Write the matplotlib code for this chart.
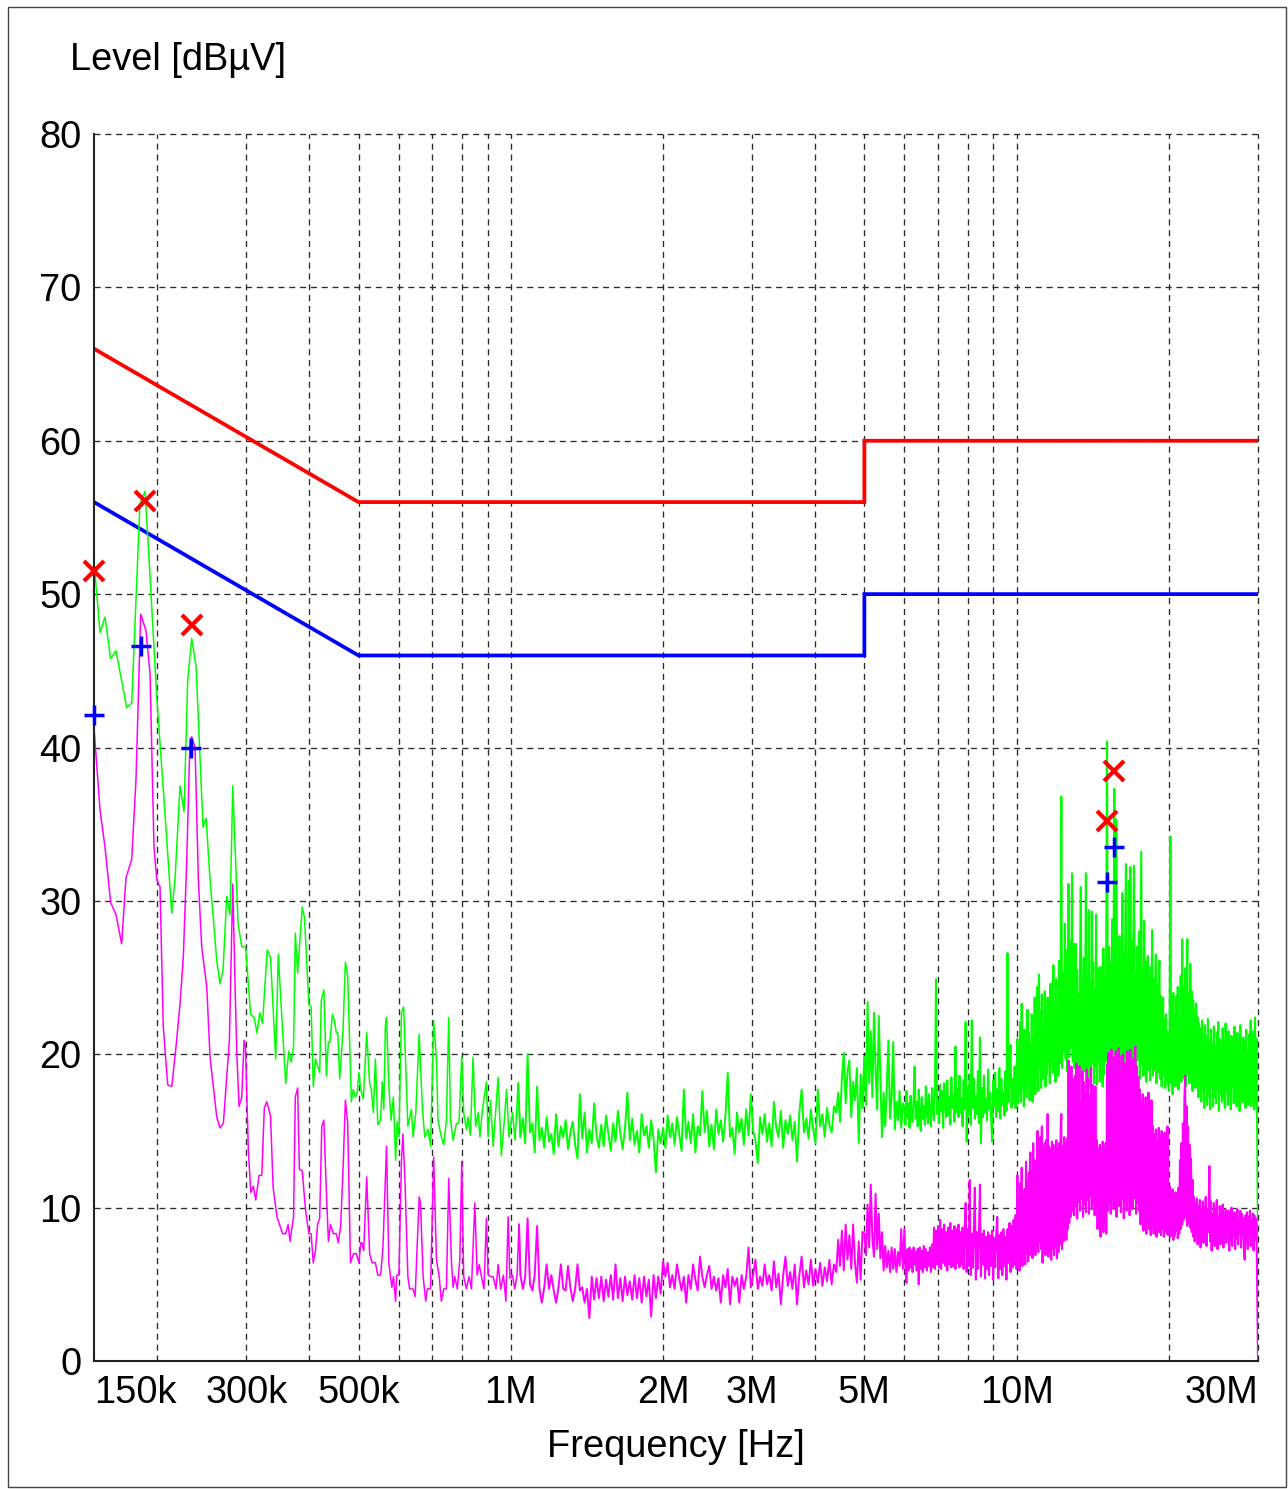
import numpy as np
import matplotlib
matplotlib.use('Agg')
import matplotlib.pyplot as plt
from matplotlib.patches import Rectangle
from matplotlib.ticker import NullLocator

plt.rcParams['font.family'] = ['Liberation Sans', 'DejaVu Sans']

# ---------------- data ----------------
# limit lines (MHz, dBuV)
qp_limit_f = [0.15, 0.5, 5.0, 5.0, 30.0]
qp_limit_db = [66, 56, 56, 60, 60]
av_limit_f = [0.15, 0.5, 5.0, 5.0, 30.0]
av_limit_db = [56, 46, 46, 50, 50]

# peak trace (green), low-frequency part (kHz, dBuV)
peak_low = [(150, 52.1), (154.2, 47.5), (157.7, 48.5), (161.8, 45.8), (165.8, 46.3), (174.1, 42.6),
            (178.1, 42.9), (184.9, 55.9), (189.2, 56.7), (191.8, 53.5), (199.6, 43.3), (207.2, 35.7),
            (213.7, 29.2), (216.9, 31.4), (221.9, 37.5), (226.0, 35.8), (229.8, 44.4), (234.0, 47.1),
            (238.7, 45.3), (246.4, 34.8), (249.8, 35.4), (254.4, 31.4), (262.3, 26.1), (266.2, 24.6),
            (269.9, 25.5), (274.5, 30.3), (278.6, 29.1), (282.1, 37.5), (289.0, 28.5), (294, 27.0),
            (299, 27.0), (306, 22.6), (311, 22.4), (315, 21.4), (319, 22.7), (323, 22.0), (330, 26.8),
            (335, 26.3), (343, 19.7), (347, 26.5), (353, 22.2), (359, 18.1), (364, 20.2), (368, 19.5),
            (372, 20.5), (375, 27.9), (379, 25.3), (387, 29.6), (391, 28.9), (399, 23.2), (403, 23.1),
            (407, 17.9), (411, 19.7), (419, 18.8), (422, 23.5), (427, 24.2), (432, 18.6), (436, 20.8),
            (439, 20.8), (444, 22.6), (448, 22.2), (452, 21.4), (455, 21.4), (459, 18.4), (466, 21.6),
            (471, 26.0), (476, 25.1), (484, 16.9), (488, 17.7), (493, 17.2), (497, 17.5), (501, 18.8),
            (505, 17.7), (511, 17.1), (519, 21.4), (526, 18.1), (530, 17.7), (535, 16.2), (540, 19.7),
            (546, 15.4), (553, 15.7), (557, 18.2), (561, 16.4), (565, 21.8), (568, 22.4), (574, 17.9),
            (580, 15.7), (586, 17.2), (592, 13.1), (596, 15.6), (601, 14.6), (608, 22.7), (614, 23.1),
            (626, 15.3), (636, 16.4), (641, 14.6), (649, 16.2), (659, 21.3), (669, 16.4), (676, 14.6),
            (686, 15.1), (694, 14.0), (704, 22.2), (713, 19.6), (718, 15.7), (729, 14.6), (737, 14.1),
            (746, 15.7), (754, 22.4), (760, 15.7), (769, 14.4), (781, 15.5), (790, 15.5), (800, 19.9),
            (807, 16.2), (817, 15.1), (823, 15.9), (832, 14.7), (842, 19.8), (852, 15.3), (862, 16.2),
            (869, 14.6), (879, 16.4), (895, 18.2), (902, 14.6), (912, 17.0), (923, 14.0), (944, 18.5),
            (958, 13.4), (969, 15.3), (981, 17.7), (992, 14.6), (1008, 16.2), (1020, 14.4), (1034, 18.1)]

# average trace (magenta), low-frequency part (kHz, dBuV)
avg_low = [(150, 41.3), (154.2, 35.9), (157.7, 33.5), (160.1, 31.4), (161.8, 29.9), (165.8, 29.1),
           (170.1, 27.2), (173.5, 31.5), (178.1, 32.7), (181.6, 37.9), (185.5, 48.7), (190.1, 47.6),
           (193.6, 44.8), (197.1, 33.5), (199.6, 31.4), (202.6, 30.9), (205.6, 21.8), (209.8, 18.0),
           (213.7, 17.9), (217.9, 20.5), (221.9, 23.3), (225.3, 26.4), (228.8, 32.7), (232.2, 40.5),
           (234.0, 40.7), (237.6, 40.0), (241.2, 31.4), (244.9, 27.0), (250.6, 24.4), (254.4, 19.8),
           (258.2, 17.9), (262.3, 15.9), (266.2, 15.2), (270.3, 15.5), (274.5, 18.5), (277.8, 20.9),
           (282.1, 31.1), (285.1, 24.4), (287.3, 20.1), (290.3, 16.6), (293.9, 17.2), (297.0, 20.9),
           (298.9, 20.5), (302.8, 13.8), (306.2, 11.0), (309.8, 11.4), (313.2, 10.5), (318.0, 12.1),
           (321.9, 12.1), (325.7, 16.5), (329.3, 16.9), (335, 16.0), (339, 11.3), (345, 9.4), (354, 8.3),
           (359, 8.3), (363, 8.9), (366, 7.8), (372, 9.4), (375, 17.2), (379, 17.8), (382, 12.5),
           (387, 12.4), (393, 9.8), (399, 8.3), (403, 8.3), (407, 6.4), (411, 7.2), (415, 8.9), (419, 9.3),
           (423, 15.3), (427, 15.7), (432, 11.0), (436, 7.8), (440, 8.9), (446, 8.3), (452, 8.3),
           (456, 7.7), (461, 8.8), (466, 12.5), (471, 17.0), (476, 15.5), (482, 6.4), (489, 7.0),
           (495, 7.0), (501, 6.4), (505, 7.7), (508, 7.7), (512, 7.2), (519, 12.0), (526, 7.0), (532, 6.4),
           (540, 6.4), (546, 5.6), (553, 5.6), (559, 7.5), (568, 14.0), (574, 6.4), (582, 4.8), (586, 5.5),
           (592, 3.9), (595, 5.6), (601, 5.6), (608, 13.1), (612, 14.8), (618, 11.6), (626, 5.5),
           (631, 4.7), (641, 4.7), (647, 4.2), (659, 10.7), (663, 10.3), (671, 5.5), (679, 3.9),
           (684, 4.7), (694, 4.7), (704, 13.3), (713, 6.6), (722, 5.5), (729, 3.9), (737, 4.7), (746, 4.7),
           (754, 11.9), (763, 6.6), (769, 4.8), (775, 5.5), (784, 4.7), (793, 6.6), (800, 13.0),
           (807, 5.5), (817, 4.7), (827, 5.5), (836, 4.7), (849, 10.3), (858, 5.6), (866, 6.3), (875, 5.5),
           (885, 4.7), (895, 9.3), (902, 5.6), (912, 5.5), (923, 5.5), (935, 4.7), (944, 6.3), (955, 4.7),
           (967, 5.6), (978, 3.9), (988, 9.4), (996, 5.4), (1008, 5.6), (1018, 4.7), (1029, 5.6),
           (1038, 8.9)]

# dense sweep part: band edges (MHz); levels per band on the sweep grid
band_edges = [1.045, 2.0, 4.4, 5.0, 6.0, 10.0, 13.0, 20.0, 29.9]

peak_1M_2M = [14.6, 15.8, 14.2, 20.0, 14.9, 15.5, 13.6, 17.9, 14.4, 15.2, 13.9, 15.9, 14.3, 14.8, 13.5, 16.1, 14.0,
              15.3, 14.6, 15.7, 13.8, 14.9, 15.6, 14.1, 13.2, 17.4, 14.5, 16.2, 13.6, 15.1, 14.2, 16.8, 14.7, 13.9,
              15.4, 14.0, 16.0, 14.8, 13.7, 15.5, 14.3, 16.3, 14.9, 13.8, 15.2, 17.5, 14.4, 15.8, 14.1, 15.0, 13.6,
              16.1, 14.7, 15.3, 13.9, 15.7, 14.5, 12.3, 15.1, 14.2]
peak_2M_4M = [15.2, 13.9, 16.0, 14.6, 15.5, 14.1, 15.9, 14.8, 13.7, 17.7, 14.5, 15.6, 14.2, 16.1, 13.6, 15.3, 14.7,
              17.6, 14.9, 16.3, 14.0, 15.4, 13.8, 16.4, 14.8, 15.7, 14.3, 16.0, 18.8, 14.6, 15.2, 13.5, 16.2, 14.9,
              15.8, 14.1, 16.4, 14.7, 17.4, 15.0, 14.4, 12.9, 15.9, 14.8, 16.1, 14.3, 15.5, 14.0, 16.9, 15.2, 14.6,
              16.3, 13.9, 15.7, 14.8, 16.0, 14.4, 15.6, 13.0, 16.2, 17.7, 14.9, 15.8, 14.5, 16.4, 15.1, 14.2, 17.7,
              15.3, 16.1, 14.6, 16.5, 15.4, 14.9, 16.6]
peak_4M_5M = [16.2, 17.5, 15.6, 18.4, 20.1, 16.8, 18.9, 19.6, 15.9, 18.2, 17.0, 19.1, 14.2, 18.7, 16.5]
peak_5M_6M = [19.8, 16.7, 23.4, 18.1, 21.5, 17.2, 22.7, 19.0, 16.4, 22.5, 18.6, 14.6, 17.5, 15.3, 17.9, 20.9, 15.8,
              17.2, 20.8, 15.1, 16.9, 15.7, 17.6, 15.2, 16.8]
peak_6M_10M = [16.5, 15.4, 17.6, 15.9, 16.8, 15.2, 17.3, 16.0, 15.6, 17.1, 19.2, 15.8, 16.9, 15.3, 17.7, 16.1, 15.0,
               17.2, 15.8, 16.6, 15.4, 17.9, 16.2, 15.5, 17.4, 16.0, 15.3, 17.8, 16.4, 15.7, 18.2, 24.9, 16.1, 17.0,
               15.5, 18.0, 16.3, 17.6, 15.2, 18.1, 16.7, 15.9, 18.3, 16.0, 17.2, 15.4, 18.5, 16.5, 17.3, 15.6, 20.5,
               16.2, 17.8, 15.9, 18.6, 16.2, 17.1, 15.3, 18.3, 16.4, 22.1, 14.3, 17.9, 16.0, 18.7, 15.4, 22.2, 16.5,
               18.4, 15.8, 17.3, 16.1, 18.9, 15.5, 21.1, 14.2, 17.8, 15.9, 18.6, 16.2, 17.1, 15.7, 19.0, 16.4, 17.5,
               15.8, 14.3, 18.3, 16.6, 18.8, 15.9, 17.7, 16.3, 19.1, 15.8, 18.4, 16.7, 17.5, 16.0, 18.9, 16.3, 26.6,
               16.9, 18.6, 20.6, 16.5, 18.4, 16.8, 19.2, 16.5]
peak_10M_13M = [18.2, 21.0, 16.8, 20.4, 17.5, 22.1, 16.9, 23.3, 17.8, 20.2, 16.6, 21.6, 18.0, 19.8, 17.2, 22.9,
                18.5, 21.4, 17.0, 20.7, 18.3, 22.6, 16.9, 21.1, 18.6, 23.7, 17.4, 22.0, 18.9, 24.4, 17.6, 25.2,
                19.2, 22.8, 17.8, 23.9, 18.4, 21.7, 19.0, 24.1, 17.9, 22.5, 18.7, 23.7, 19.5, 21.9, 18.1, 24.6,
                19.3, 22.4, 18.8, 25.8, 19.6, 23.2, 18.2, 24.9, 19.9, 22.7, 18.6, 26.1, 19.4, 24.0, 36.8, 19.1,
                25.3, 20.2, 23.8, 28.5, 19.7, 26.8, 18.9, 25.5, 31.1, 19.8, 27.4, 20.4, 24.7, 31.8, 19.5, 27.2]
peak_13M_20M = [19.1, 24.6, 27.2, 18.3, 25.5, 17.8, 23.9, 18.4, 26.2, 30.9, 19.0, 24.4, 17.6, 26.3, 18.9, 23.8,
                31.8, 18.8, 25.1, 19.3, 29.4, 17.9, 24.8, 18.6, 29.3, 19.4, 26.0, 18.1, 24.3, 19.2, 29.1, 18.0,
                25.6, 19.5, 23.1, 18.2, 25.7, 19.0, 24.2, 17.9, 26.9, 18.7, 25.0, 19.6, 27.5, 40.4, 19.2, 26.4,
                27.0, 18.5, 25.9, 19.8, 28.8, 18.4, 26.7, 37.3, 20.0, 27.3, 35.3, 19.1, 26.1, 18.6, 27.7, 19.7,
                25.4, 18.9, 30.5, 19.5, 26.6, 18.7, 27.9, 32.4, 19.3, 26.2, 18.8, 31.3, 19.9, 32.2, 19.0, 27.4,
                18.5, 26.8, 32.3, 19.4, 25.3, 18.9, 27.0, 19.6, 25.8, 28.0, 18.4, 26.3, 33.2, 19.3, 25.6, 18.6,
                28.7, 19.1, 26.0, 18.2, 25.2, 26.4, 19.0, 24.8, 18.3, 25.7, 19.2, 28.1, 18.6, 24.9, 19.0, 23.6,
                26.5, 18.1, 24.5, 18.8, 25.1, 26.1, 18.4, 23.8, 17.9, 22.7, 23.7, 18.6, 22.3, 17.8, 22.6, 18.2,
                21.5, 18.0]
peak_20M_30M = [17.6, 22.1, 34.2, 18.1, 23.4, 17.4, 24.0, 18.3, 22.6, 17.9, 23.8, 18.6, 24.4, 17.7, 22.4, 18.8,
                25.1, 18.2, 27.5, 19.0, 24.3, 18.4, 25.6, 17.9, 24.8, 27.5, 18.7, 23.9, 18.1, 25.9, 18.9, 24.1,
                17.6, 23.5, 18.3, 22.9, 17.8, 23.3, 18.5, 22.4, 17.2, 22.0, 18.1, 21.7, 16.9, 22.2, 17.6, 21.3,
                16.5, 21.9, 17.9, 21.1, 16.7, 22.3, 17.3, 20.9, 16.4, 21.6, 17.8, 20.7, 16.6, 21.8, 17.2, 20.5,
                16.8, 21.4, 17.7, 22.1, 16.3, 21.0, 17.4, 20.6, 16.9, 21.7, 17.1, 20.8, 16.5, 22.0, 17.6, 20.4,
                16.7, 21.5, 17.3, 20.9, 16.4, 21.2, 17.9, 20.6, 16.8, 21.8, 17.0, 20.3, 16.6, 21.4, 17.5, 20.7,
                16.3, 21.9, 17.2, 20.5, 16.9, 21.1, 17.4, 20.8, 16.5, 21.6, 17.8, 20.2, 16.7, 21.3, 17.1, 22.2,
                16.6, 20.9, 17.5, 21.5, 16.4, 22.4, 17.0, 21.0]
peak_bands = [peak_1M_2M, peak_2M_4M, peak_4M_5M, peak_5M_6M, peak_6M_10M, peak_10M_13M, peak_13M_20M,
              peak_20M_30M]
peak_end = (30.0, 7.7)

avg_1M_2M = [5.6, 4.7, 5.5, 9.3, 5.0, 4.6, 5.6, 8.8, 4.7, 3.8, 4.8, 6.3, 4.7, 5.6, 4.6, 3.8, 4.8, 6.3, 4.7, 4.6,
             6.2, 4.8, 3.9, 4.7, 6.3, 4.6, 4.8, 3.8, 4.7, 2.8, 5.5, 4.0, 5.4, 4.1, 5.5, 3.9, 5.3, 4.2, 5.6, 4.0,
             6.3, 4.1, 5.4, 3.9, 5.5, 4.3, 5.2, 4.0, 5.6, 4.1, 5.4, 3.8, 5.5, 4.2, 5.3, 2.9, 5.6, 4.1, 5.5, 4.4]
avg_2M_4M = [6.5, 5.5, 6.4, 4.8, 5.6, 4.7, 6.3, 5.4, 4.6, 5.5, 3.8, 5.6, 4.7, 6.3, 5.3, 4.6, 6.8, 5.5, 4.8, 5.6,
             6.2, 4.7, 5.5, 4.6, 5.4, 3.8, 5.6, 4.8, 6.0, 3.7, 5.5, 4.9, 5.4, 3.8, 5.6, 4.7, 5.5, 7.4, 4.8, 5.6,
             6.6, 4.7, 5.5, 4.9, 6.3, 5.0, 5.6, 4.6, 6.5, 4.8, 5.7, 3.7, 5.6, 6.8, 4.9, 5.8, 4.7, 6.3, 3.7, 5.6,
             6.8, 4.8, 5.9, 5.0, 6.6, 4.9, 6.0, 5.1, 6.4, 4.9, 6.1, 5.2, 6.6, 5.0, 6.3]
avg_4M_5M = [5.8, 7.9, 6.2, 8.5, 5.9, 8.9, 6.6, 8.2, 6.0, 8.9, 6.4, 5.1, 7.8, 5.3, 8.4]
avg_5M_6M = [8.3, 6.9, 10.2, 7.4, 11.5, 8.0, 6.8, 10.9, 7.3, 9.6, 6.7, 8.4, 5.9, 7.5, 6.1, 7.2, 5.8, 7.4, 6.0, 7.3,
             5.8, 7.1, 6.2, 8.6, 6.0]
avg_6M_10M = [8.6, 6.0, 5.1, 7.3, 5.9, 7.4, 6.1, 7.2, 5.8, 7.4, 6.3, 7.1, 5.9, 7.3, 5.0, 7.4, 6.0, 7.2, 5.8, 7.5,
              6.1, 7.3, 5.9, 7.1, 6.2, 7.4, 5.8, 7.6, 6.1, 8.7, 6.0, 8.5, 6.3, 8.8, 6.1, 9.2, 6.0, 8.6, 6.4, 8.9,
              6.2, 8.4, 5.9, 8.7, 6.3, 9.0, 6.1, 8.5, 6.2, 8.8, 6.0, 8.6, 6.4, 8.9, 6.1, 8.4, 6.3, 8.7, 6.0, 8.5,
              10.3, 5.8, 8.6, 6.2, 11.8, 5.6, 8.3, 6.1, 8.5, 11.3, 5.3, 8.4, 6.0, 8.2, 11.5, 5.5, 8.3, 6.3, 8.5,
              5.4, 8.1, 6.0, 8.4, 5.6, 8.2, 6.2, 8.5, 5.3, 8.0, 6.1, 8.3, 9.4, 5.4, 8.2, 6.0, 8.4, 5.6, 8.6, 6.2,
              8.1, 5.3, 8.6, 6.4, 9.0, 5.8, 8.8, 6.1, 9.2, 6.3, 9.5]
avg_10M_13M = [6.0, 12.1, 6.4, 10.5, 5.9, 11.6, 6.6, 12.6, 6.2, 10.9, 6.8, 11.2, 6.3, 13.0, 7.0, 11.8, 6.5, 12.3,
               6.9, 13.6, 7.2, 12.4, 6.7, 14.2, 7.4, 13.1, 6.9, 12.8, 7.6, 15.0, 7.1, 13.8, 7.8, 14.6, 7.3, 15.3,
               6.4, 13.9, 7.7, 14.2, 6.9, 14.4, 7.5, 16.1, 6.8, 14.0, 7.2, 13.8, 6.6, 14.3, 7.3, 14.1, 6.9, 13.6,
               7.4, 14.4, 6.7, 13.9, 7.1, 14.2, 7.6, 15.1, 16.1, 7.3, 14.0, 7.8, 14.6, 8.1, 14.2, 7.9, 14.5, 8.6,
               19.6, 9.0, 18.8, 9.4, 19.2, 9.8, 18.4, 9.6]
avg_13M_20M = [9.5, 18.6, 10.1, 19.4, 9.3, 17.8, 10.4, 19.2, 9.8, 16.9, 10.6, 18.9, 9.4, 18.2, 10.2, 17.5, 9.7,
               19.0, 10.5, 18.4, 9.6, 17.3, 10.8, 19.1, 9.9, 18.0, 10.4, 16.5, 9.5, 17.9, 10.1, 14.4, 8.6, 13.8,
               9.2, 14.1, 8.1, 13.5, 9.4, 14.3, 8.4, 13.7, 9.0, 14.2, 8.3, 19.3, 9.8, 20.1, 10.3, 19.5, 9.6, 20.3,
               10.7, 18.9, 9.9, 19.8, 10.5, 20.2, 9.4, 19.0, 10.8, 20.4, 10.1, 18.6, 9.7, 19.9, 10.6, 20.0, 9.3,
               19.4, 10.4, 18.8, 9.8, 20.2, 10.9, 19.6, 9.5, 20.3, 10.2, 18.7, 9.9, 19.7, 10.6, 20.1, 20.5, 9.6,
               19.2, 10.3, 18.5, 9.8, 17.7, 8.9, 16.9, 9.4, 17.4, 8.5, 16.6, 9.1, 17.2, 8.3, 16.8, 9.0, 17.5, 8.6,
               16.7, 8.2, 17.0, 8.8, 15.3, 8.3, 14.8, 8.7, 15.1, 8.1, 14.4, 8.9, 15.2, 8.4, 14.6, 8.2, 15.0, 8.6,
               14.5, 8.1, 14.9, 8.5, 14.7, 8.3, 15.3, 8.2]
avg_20M_30M = [8.3, 11.4, 8.1, 10.9, 8.4, 11.2, 7.9, 10.7, 8.2, 11.0, 8.5, 10.8, 8.0, 11.3, 8.3, 13.1, 8.6, 14.2,
               8.9, 15.5, 9.2, 16.9, 18.6, 9.4, 16.6, 8.8, 15.3, 9.0, 14.1, 8.7, 13.2, 8.4, 11.8, 8.1, 10.7, 7.8,
               10.3, 8.2, 10.6, 7.6, 10.1, 8.0, 10.5, 7.4, 9.8, 8.3, 10.4, 7.7, 10.0, 8.1, 10.7, 7.5, 9.9, 8.4,
               10.2, 12.7, 7.8, 10.4, 7.2, 9.6, 8.2, 10.3, 7.5, 9.9, 8.4, 10.5, 7.3, 9.4, 8.0, 10.1, 7.6, 9.7,
               8.5, 10.2, 7.4, 9.5, 8.1, 9.9, 7.7, 9.3, 8.3, 9.8, 7.2, 9.6, 7.9, 10.0, 7.5, 9.4, 8.2, 9.7, 7.3,
               9.5, 8.0, 9.9, 7.6, 9.2, 8.4, 9.8, 7.4, 9.6, 8.1, 9.3, 7.0, 6.6, 9.5, 7.8, 9.7, 7.3, 9.4, 8.2, 9.8,
               7.5, 9.2, 8.0, 9.6, 7.2, 9.5, 7.9, 9.3, 8.8]
avg_bands = [avg_1M_2M, avg_2M_4M, avg_4M_5M, avg_5M_6M, avg_6M_10M, avg_10M_13M, avg_13M_20M, avg_20M_30M]
avg_end = (30.0, 0.0)

# final-measurement markers (MHz, dBuV)
qp_marker_f = [0.150, 0.189, 0.234, 15.1, 15.6]
qp_marker_db = [51.5, 56.1, 48.0, 35.2, 38.5]
av_marker_f = [0.150, 0.1855, 0.233, 15.1, 15.6]
av_marker_db = [42.1, 46.6, 40.0, 31.2, 33.5]

x_ticks = [0.15, 0.3, 0.5, 1, 2, 3, 5, 10, 30]
x_tick_labels = ['150k', '300k', '500k', '1M', '2M', '3M', '5M', '10M', '30M']
x_grid = [0.2, 0.3, 0.4, 0.5, 0.6, 0.7, 0.8, 0.9, 1, 2, 3, 4, 5, 6, 7, 8, 9, 10, 20, 30]
y_ticks = [0, 10, 20, 30, 40, 50, 60, 70, 80]


def build_trace(low, bands, end):
    f = [p[0] / 1000.0 for p in low]
    v = [p[1] for p in low]
    for i, lev in enumerate(bands):
        grid = np.geomspace(band_edges[i], band_edges[i + 1], len(lev) + 1)[:-1]
        f.extend(grid.tolist())
        v.extend(lev)
    f.append(end[0])
    v.append(end[1])
    return np.array(f), np.array(v)


peak_f, peak_v = build_trace(peak_low, peak_bands, peak_end)
avg_f, avg_v = build_trace(avg_low, avg_bands, avg_end)

# ---------------- figure ----------------
W, H = 1288, 1489
FS = 27.4
fig = plt.figure(figsize=(W / 100, H / 100), dpi=100)
fig.patch.set_facecolor('white')
fig.patches.append(Rectangle((8 / W, 1 - 1487 / H), 1278 / W, 1480 / H, transform=fig.transFigure,
                             fill=False, edgecolor='#444444', linewidth=1.0))

ax = fig.add_axes([94 / W, 1 - 1361 / H, 1164 / W, (1361 - 134) / H])
ax.set_xscale('log')
ax.set_xlim(0.15, 30)
ax.set_ylim(0, 80)

grid_kw = dict(color='#2a2a2a', linewidth=0.95, dashes=(4.6, 3.6), zorder=1)
for g in x_grid:
    ax.axvline(g, clip_on=False, **grid_kw)
for y in y_ticks[1:]:
    ax.axhline(y, clip_on=False, **grid_kw)

ax.plot(av_limit_f, av_limit_db, color='#0000ff', linewidth=2.7, zorder=3, solid_joinstyle='miter')
ax.plot(qp_limit_f, qp_limit_db, color='#ff0000', linewidth=2.7, zorder=3, solid_joinstyle='miter')


def plot_trace(f, v, color, z):
    # thinner stroke for the sparse low band, heavier where the sweep is dense
    parts = [(0.0, 1.045, 1.1), (1.045, 5.0, 1.4), (5.0, 10.0, 1.45), (10.0, 31.0, 1.5)]
    for lo, hi, lw in parts:
        idx = np.where((f >= lo) & (f <= hi))[0]
        if len(idx) == 0:
            continue
        i0 = max(idx[0] - 1, 0)
        sl = slice(i0, idx[-1] + 1)
        ax.plot(f[sl], v[sl], color=color, linewidth=lw, zorder=z, solid_joinstyle='round')


plot_trace(peak_f, peak_v, '#00ff00', 4)
plot_trace(avg_f, avg_v, '#ff00ff', 5)

ax.plot(qp_marker_f, qp_marker_db, linestyle='none', marker='x', markersize=14, markeredgewidth=3.0,
        color='#ff0000', zorder=7, clip_on=False)
ax.plot(av_marker_f, av_marker_db, linestyle='none', marker='+', markersize=15, markeredgewidth=2.5,
        color='#0000ff', zorder=7, clip_on=False)

for s in ['top', 'right']:
    ax.spines[s].set_visible(False)
for s in ['left', 'bottom']:
    ax.spines[s].set_color('#222222')
    ax.spines[s].set_linewidth(1.5)
    ax.spines[s].set_zorder(6)

ax.set_xticks(x_ticks)
ax.set_xticklabels(x_tick_labels)
ax.xaxis.set_minor_locator(NullLocator())
ax.set_yticks(y_ticks)
ax.tick_params(axis='both', length=0, labelsize=FS, colors='black')
ax.tick_params(axis='x', pad=10)
ax.tick_params(axis='y', pad=9)
xl = ax.get_xticklabels()
xl[0].set_horizontalalignment('left')
xl[-1].set_horizontalalignment('right')

fig.text(70 / W, 1 - 60 / H, 'Level [dBµV]', fontsize=FS, ha='left', va='center')
fig.text(676 / W, 1 - 1447 / H, 'Frequency [Hz]', fontsize=FS, ha='center', va='center')

fig.savefig('out.png', dpi=100)
